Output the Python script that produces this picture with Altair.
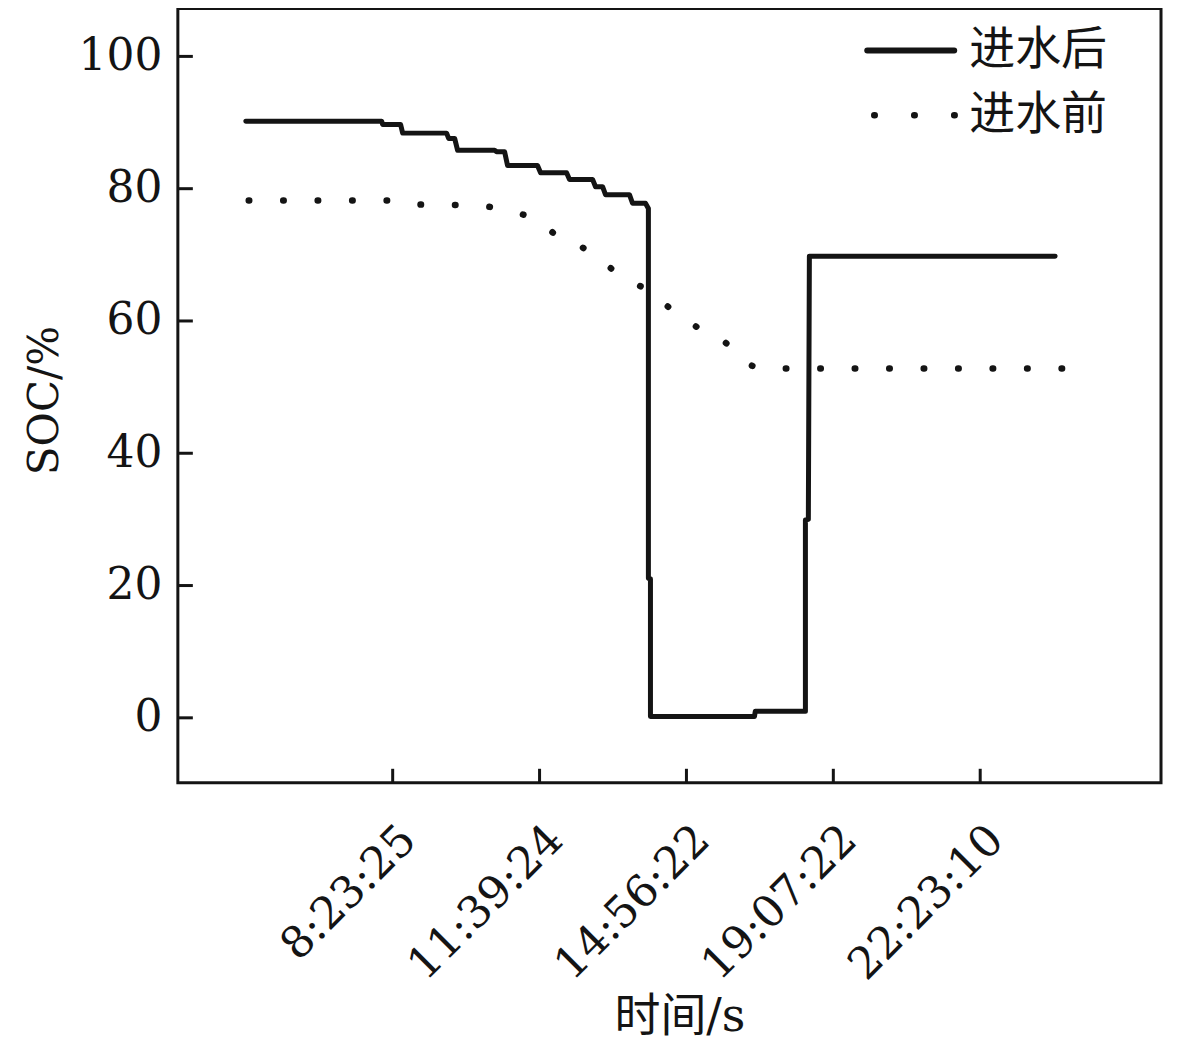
import altair as alt
import pandas as pd

# ---- data ----
after_x = [0, 92.5, 93.2, 105.4, 106.8, 136.7, 138.1, 142.2, 144.2, 169.4,
           170.7, 176.2, 178.2, 198.6, 200.7, 218.4, 220.4, 236.1, 238.1, 242.9,
           244.9, 261.2, 263.3, 272.1, 274.1, 274.1, 275.5, 275.5, 346.3, 346.9,
           381.0, 381.0, 383.0, 383.7, 551.0]
after_soc = [90.2, 90.2, 89.7, 89.7, 88.4, 88.4, 87.6, 87.6, 85.8, 85.8,
             85.6, 85.6, 83.5, 83.5, 82.4, 82.4, 81.4, 81.4, 80.3, 80.3,
             79.1, 79.1, 77.8, 77.8, 77.0, 21.1, 21.0, 0.2, 0.2, 1.0,
             1.0, 29.9, 30.0, 69.8, 69.8]

before_x = [2.0, 108.2, 118.4, 154.4, 176.2, 195.2, 211.6, 229.3, 243.5, 259.2,
            274.8, 287.8, 302.0, 311.6, 327.9, 340.8, 353.1, 574.1]
before_soc = [78.2, 78.2, 77.6, 77.5, 76.8, 75.5, 73.0, 71.1, 68.8, 66.3,
              64.5, 62.1, 59.8, 58.5, 56.5, 53.7, 52.8, 52.8]

x_tick_values = [100, 200, 300, 400, 500]
x_tick_labels = ["8:23:25", "11:39:24", "14:56:22", "19:07:22", "22:23:10"]
y_tick_values = [0, 20, 40, 60, 80, 100]
series_names = ["进水后", "进水前"]

# ---- tables ----
df_after = pd.DataFrame({"x": after_x, "soc": after_soc, "o": range(len(after_x))})
df_before = pd.DataFrame({"x": before_x, "soc": before_soc, "o": range(len(before_x))})
df_xt = pd.DataFrame({"x": x_tick_values})
df_yt = pd.DataFrame({"soc": y_tick_values})

FONT = "DejaVu Serif"
MIX = "DejaVu Serif, Noto Sans CJK SC"
CJK = "Noto Sans CJK SC"
INK = "#141414"

W, H = 984, 775
label_map = "{" + ",".join(f"'{v}':'{l}'" for v, l in zip(x_tick_values, x_tick_labels)) + "}"

xscale = alt.Scale(domain=[-46.26, 623.1], nice=False, zero=False)
yscale = alt.Scale(domain=[-9.82, 107.25], nice=False, zero=False)

x_axis = alt.Axis(values=x_tick_values, labelExpr=f"{label_map}[datum.value + '']",
                  tickSize=0, domain=False, grid=False, labelAngle=315,
                  labelAlign="right", labelBaseline="middle", labelPadding=50,
                  labelOffset=16, labelFont=FONT, labelFontSize=44, labelColor=INK,
                  labelOverlap=False, labelFlush=False, labelBound=False, labelLimit=0,
                  title="时间/s", titleX=502, titleY=234, titleBaseline="middle",
                  titleAlign="center")
y_axis = alt.Axis(values=y_tick_values, tickSize=0, domain=False, grid=False,
                  labelPadding=16, labelFont=FONT, labelFontSize=44, labelColor=INK,
                  title="SOC/%", titleX=-133, titleY=392, titleAngle=270,
                  titleAlign="center", titleBaseline="middle")

X = alt.X("x:Q", scale=xscale, axis=x_axis)
Y = alt.Y("soc:Q", scale=yscale, axis=y_axis)

after_line = alt.Chart(df_after).mark_line(
    color=INK, strokeWidth=5, strokeJoin="round", strokeCap="round"
).encode(x=X, y=Y, order="o:Q")

before_line = alt.Chart(df_before).mark_line(
    color=INK, strokeWidth=6.5, strokeCap="round", strokeDash=[0.5, 34], interpolate="monotone"
).encode(x=X, y=Y, order="o:Q")

x_ticks = alt.Chart(df_xt).mark_rule(color=INK, strokeWidth=3).encode(
    x=X, y=alt.value(H), y2=alt.value(H - 14),
)
y_ticks = alt.Chart(df_yt).mark_rule(color=INK, strokeWidth=3).encode(
    y=Y, x=alt.value(0), x2=alt.value(15),
)

leg_solid = alt.Chart(pd.DataFrame({"a": [0]})).mark_rule(
    color=INK, strokeWidth=6, strokeCap="round"
).encode(x=alt.value(690), x2=alt.value(777), y=alt.value(42))
leg_dot = alt.Chart(pd.DataFrame({"a": [0]})).mark_rule(
    color=INK, strokeWidth=6.5, strokeCap="round", strokeDash=[0.5, 39.5]
).encode(x=alt.value(697), x2=alt.value(778), y=alt.value(107))
leg_t1 = alt.Chart(pd.DataFrame({"t": [series_names[0]]})).mark_text(
    font=CJK, fontSize=46, color=INK, align="left", baseline="middle"
).encode(x=alt.value(792), y=alt.value(42), text="t:N")
leg_t2 = alt.Chart(pd.DataFrame({"t": [series_names[1]]})).mark_text(
    font=CJK, fontSize=46, color=INK, align="left", baseline="middle"
).encode(x=alt.value(792), y=alt.value(107), text="t:N")

chart = alt.layer(
    after_line, before_line, x_ticks, y_ticks, leg_solid, leg_dot, leg_t1, leg_t2
).properties(
    width=W, height=H,
    autosize=alt.AutoSizeParams(type="none"),
    padding={"left": 170, "top": 0, "right": 12, "bottom": 262},
    background="white",
).configure_view(
    stroke=INK, strokeWidth=3
).configure_axisX(
    titleFont=MIX, titleFontSize=46, titleFontWeight="normal", titleColor=INK
).configure_axisY(
    titleFont=FONT, titleFontSize=42, titleFontWeight="normal", titleColor=INK
)

chart.save("out.html", embed_options={"renderer": "svg", "actions": False})
